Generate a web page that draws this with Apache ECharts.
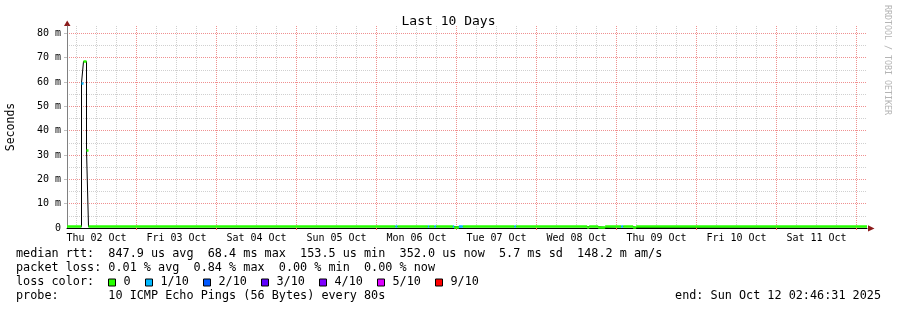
<!DOCTYPE html>
<html><head><meta charset="utf-8">
<script src="https://cdn.jsdelivr.net/npm/echarts@6/dist/echarts.min.js"></script>
<style>html,body{margin:0;padding:0;background:#fff}#c{width:897px;height:310px}</style>
</head><body><div id="c"></div>
<script>
// x values are hours since Thu 02 Oct 2025 00:00
const xMin = 3.15, xMax = 243.15;
const dayLabels = ['Thu 02 Oct','Fri 03 Oct','Sat 04 Oct','Sun 05 Oct','Mon 06 Oct','Tue 07 Oct','Wed 08 Oct','Thu 09 Oct','Fri 10 Oct','Sat 11 Oct'];
const dayNoon = [12,36,60,84,108,132,156,180,204,228];
const midnights = [24,48,72,96,120,144,168,192,216,240];
const sixHours = [6,12,18,30,36,42,54,60,66,78,84,90,102,108,114,126,132,138,150,156,162,174,180,186,198,204,210,222,228,234];
const yMajor = [10,20,30,40,50,60,70,80];
const yLabelValues = [0,10,20,30,40,50,60,70,80];
const yLabels = ['0','10 m','20 m','30 m','40 m','50 m','60 m','70 m','80 m'];
const yMinor = [5,15,25,35,45,55,65,75];

// median rtt (ms), step segments: start time, value, loss index
const medianTime = [3.15, 7.5, 8.1, 9.0, 9.6, 101.69, 102.29, 111.41, 111.8, 113.39, 113.9, 118.91, 119.3, 120.71, 121.91, 137.39, 137.9, 159.2, 159.8, 162.5, 164.6, 169.4, 170.0, 173.0, 173.9];
const medianMs   = [0.55, 59.6, 68.4, 32.0, 0.55, 0.55, 0.55, 0.55, 0.55, 0.55, 0.55, 0.55, 0.5, 0.55, 0.55, 0.55, 0.55, 0.2, 0.55, 0.25, 0.55, 0.55, 0.55, 0.2, 0.55];
const medianLoss = [0, 1, 0, 0, 0, 1, 0, 1, 0, 1, 0, 1, 0, 1, 0, 1, 0, 0, 0, 0, 0, 1, 0, 0, 0];

const lossLabels = ['0','1/10','2/10','3/10','4/10','5/10','9/10'];
const lossColors = ['#26ff00','#00b8ff','#0059ff','#5e00ff','#7e00ff','#dd00ff','#ff0000'];

const legendRows = [
  'median rtt:  847.9 us avg  68.4 ms max  153.5 us min  352.0 us now  5.7 ms sd  148.2 m am/s',
  'packet loss: 0.01 % avg  0.84 % max  0.00 % min  0.00 % now',
  'loss color:',
  'probe:       10 ICMP Echo Pings (56 Bytes) every 80s'
];
const endText = 'end: Sun Oct 12 02:46:31 2025';

const blackData = [];
const colorSegs = [];
for (let i = 0; i < medianTime.length; i++) {
  const s = medianTime[i];
  const e = i + 1 < medianTime.length ? medianTime[i + 1] : xMax;
  const v = medianMs[i];
  blackData.push([s, v], [e, v]);
  colorSegs.push({coords: [[s, v], [e, v]], lineStyle: {color: lossColors[medianLoss[i]]}});
}

const MONO = 'DejaVu Sans Mono';
const graphics = [];
graphics.push({type:'text', x:891, y:5, rotation:-Math.PI/2, style:{text:'RRDTOOL / TOBI OETIKER', font:'8.3px "DejaVu Sans Mono"', fill:'#b4b4b4', verticalAlign:'top', align:'left'}});
graphics.push({type:'text', x:11, y:127, rotation:Math.PI/2, style:{text:'Seconds', font:'11.5px "DejaVu Sans Mono"', fill:'#000', verticalAlign:'middle', align:'center'}});
graphics.push({type:'polygon', shape:{points:[[64,26],[70.5,26],[67.2,20.5]]}, style:{fill:'#8b1a1a'}});
graphics.push({type:'polygon', shape:{points:[[868,225.3],[868,231.5],[874.5,228.4]]}, style:{fill:'#8b1a1a'}});
const rowY = [254, 268.3, 282.3, 296.3];
legendRows.forEach((t, i) => {
  graphics.push({type:'text', x:16, y:rowY[i], style:{text:t, font:'11.8px "DejaVu Sans Mono"', fill:'#000', verticalAlign:'middle'}});
});
graphics.push({type:'text', x:881, y:rowY[3], style:{text:endText, font:'11.8px "DejaVu Sans Mono"', fill:'#000', verticalAlign:'middle', align:'right'}});
const legendX = [108.5,145.5,203.5,261.5,319.5,377.5,435.5];
lossLabels.forEach((t, i) => {
  graphics.push({type:'rect', shape:{x:legendX[i], y:279, width:7, height:7}, style:{fill:lossColors[i], stroke:'#000', lineWidth:1}});
  graphics.push({type:'text', x:legendX[i]+15, y:rowY[2], style:{text:t, font:'11.8px "DejaVu Sans Mono"', fill:'#000', verticalAlign:'middle'}});
});

const chart = echarts.init(document.getElementById('c'), null, {renderer:'canvas'});
chart.setOption({
  animation: false,
  backgroundColor: '#fff',
  title: {text:'Last 10 Days', left:'center', top:10, textStyle:{fontFamily:MONO, fontSize:13, fontWeight:'normal', color:'#000'}},
  grid: {left:67, right:30, top:26, bottom:82, containLabel:false, outerBoundsMode:'none'},
  xAxis: [
    {type:'value', min:xMin, max:xMax, position:'bottom',
     axisLine:{show:true, lineStyle:{color:'#000', width:1}},
     axisTick:{show:true, customValues:midnights, length:2, lineStyle:{color:'#ff6060'}},
     axisLabel:{customValues:dayNoon, formatter:(v)=>dayLabels[dayNoon.indexOf(v)], fontFamily:MONO, fontSize:10, color:'#000', margin:5},
     splitLine:{show:true, lineStyle:{color:'#f09090', type:[1,1], width:1}}},
    {type:'value', min:xMin, max:xMax, position:'top',
     axisLine:{show:false}, axisTick:{show:false, customValues:sixHours}, axisLabel:{show:false},
     splitLine:{show:true, lineStyle:{color:'#d0d0d0', type:[1,1], width:1}}}
  ],
  yAxis: [
    {type:'value', min:0, max:83, position:'left',
     axisLine:{show:true, lineStyle:{color:'#808080'}},
     axisTick:{show:true, customValues:yMajor, length:3, lineStyle:{color:'#c0c0c0'}},
     axisLabel:{customValues:yLabelValues, formatter:(v)=>yLabels[yLabelValues.indexOf(v)], fontFamily:MONO, fontSize:10, color:'#000', margin:6},
     splitLine:{show:true, lineStyle:{color:'#f09090', type:[1,1], width:1}}},
    {type:'value', min:0, max:83, position:'right',
     axisLine:{show:false}, axisTick:{show:false, customValues:yMinor}, axisLabel:{show:false},
     splitLine:{show:true, lineStyle:{color:'#d0d0d0', type:[1,1], width:1}}}
  ],
  graphic: graphics,
  series: [
    {type:'line', xAxisIndex:0, yAxisIndex:0, data:blackData, showSymbol:false, symbol:'none',
     lineStyle:{color:'#000', width:1}, z:3, silent:true},
    {type:'lines', coordinateSystem:'cartesian2d', xAxisIndex:0, yAxisIndex:0, data:colorSegs, polyline:false,
     lineStyle:{width:2.6, opacity:1, cap:'butt'}, z:4, silent:true}
  ]
});
</script></body></html>
